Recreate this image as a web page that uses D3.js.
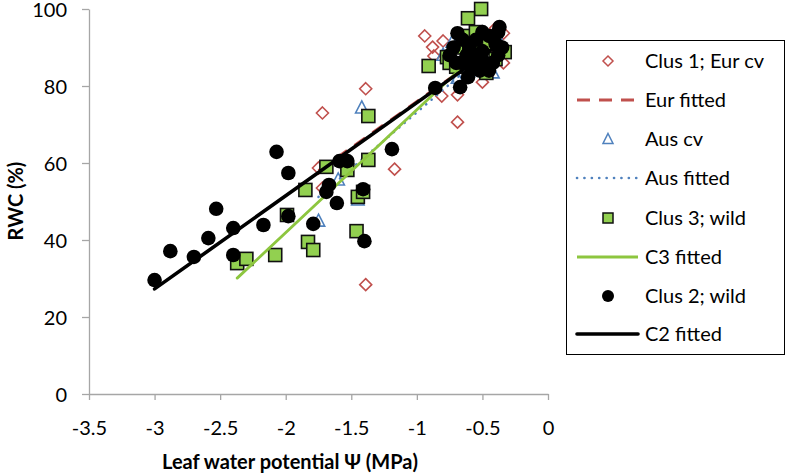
<!DOCTYPE html>
<html><head><meta charset="utf-8">
<script src="https://cdn.jsdelivr.net/npm/d3@7/dist/d3.min.js"></script>
<style>body{margin:0;background:#fff}svg{display:block}text{font-family:Lato,"Open Sans",sans-serif}</style>
</head><body><svg id="c" width="790" height="474"></svg>
<script>
// ---- data ----
const xTicks = [-3.5,-3,-2.5,-2,-1.5,-1,-0.5,0];
const yTicks = [0,20,40,60,80,100];
const seriesNames = ["Clus 1; Eur cv","Eur fitted","Aus cv","Aus fitted","Clus 3; wild","C3 fitted","Clus 2; wild","C2 fitted"];

const eurCv = [[-1.72,73.0],[-1.39,79.3],[-1.75,58.7],[-1.72,53.5],[-1.17,58.4],[-1.39,28.4],[-0.94,93.0],[-0.88,90.1],[-0.80,91.7],[-0.87,87.8],[-0.81,77.4],[-0.69,77.7],[-0.69,70.6],[-0.50,81.0],[-0.34,93.7],[-0.34,86.0],[-0.55,92.5],[-0.60,88.5],[-0.45,90.0],[-0.65,86],[-0.40,95]];
const eurFit = [[-1.75,58.0],[-0.35,91.5]];
const ausCv = [[-1.42,74.3],[-1.60,55.6],[-1.75,44.9],[-1.45,50.4],[-0.73,91.4],[-0.69,82.0],[-0.42,83.4],[-0.80,88],[-0.55,90],[-0.60,84]];
const ausFit = [[-1.75,51.2],[-0.35,92.2]];
const clus3 = [[-2.37,34.0],[-2.30,35.1],[-2.08,36.1],[-1.99,46.5],[-1.85,53.0],[-1.83,39.5],[-1.79,37.4],[-1.69,59.0],[-1.53,58.2],[-1.45,51.2],[-1.41,52.5],[-1.37,60.8],[-1.37,72.2],[-1.46,42.3],[-0.91,85.2],[-0.51,100],[-0.61,97.6],[-0.47,83.4],[-0.33,88.8],[-0.77,87.5],[-0.75,86],[-0.58,85],[-0.62,93],[-0.55,94],[-0.66,90],[-0.45,91],[-0.40,87],[-0.52,89],[-0.70,85],[-0.60,88]];
const c3Fit = [[-2.37,30.1],[-0.40,93.0]];
const clus2 = [[-3.0,29.6],[-2.88,37.1],[-2.70,35.6],[-2.59,40.5],[-2.53,48.1],[-2.40,43.1],[-2.40,36.1],[-2.17,43.9],[-2.07,62.9],[-1.98,57.4],[-1.98,46.2],[-1.79,44.2],[-1.67,54.3],[-1.69,52.5],[-1.59,60.5],[-1.53,60.5],[-1.61,49.6],[-1.41,53.2],[-1.40,39.7],[-1.19,63.6],[-0.86,79.5],[-0.67,79.7],[-0.61,82.3],[-0.69,93.7],[-0.37,95.3],[-0.75,88],[-0.72,90],[-0.65,92],[-0.60,90],[-0.55,92],[-0.50,89],[-0.45,93],[-0.40,91],[-0.38,88],[-0.42,86],[-0.48,86],[-0.55,87],[-0.62,88],[-0.58,85],[-0.52,84],[-0.45,84],[-0.66,86],[-0.70,86],[-0.38,94],[-0.50,94],[-0.35,90]];
const c2Fit = [[-3.0,27.3],[-0.35,91.4]];

// ---- chart ----
const svg = d3.select("#c");
const x = d3.scaleLinear([-3.5,0],[89,548]);
const y = d3.scaleLinear([0,100],[394,9]);
const axisCol = "#a6a6a6";

const gx = svg.append("g").attr("transform","translate(0,394)")
  .call(d3.axisBottom(x).tickValues(xTicks).tickSize(6).tickSizeOuter(0).tickFormat(d=>String(d)));
const gy = svg.append("g").attr("transform","translate(89,0)")
  .call(d3.axisLeft(y).tickValues(yTicks).tickSize(7).tickSizeOuter(0).tickFormat(d=>String(d)));
[gx,gy].forEach(g=>{
  g.selectAll("path,line").attr("stroke",axisCol).attr("stroke-width",1.3);
  g.selectAll("text").attr("font-size",20).attr("fill","#000").attr("font-family","Lato");
});
gx.selectAll("text").attr("dy","1.0em").attr("y",21);
gy.selectAll("text").attr("x",-22).attr("dy","0.36em");

svg.append("text").attr("x",290).attr("y",469).attr("text-anchor","middle")
  .attr("font-size",20).attr("font-weight","bold").text("Leaf water potential Ψ (MPa)");
svg.append("text").attr("transform","translate(23,201) rotate(-90)").attr("text-anchor","middle")
  .attr("font-size",20).attr("font-weight","bold").text("RWC  (%)");

const line = d3.line().x(d=>x(d[0])).y(d=>y(d[1]));
const red="#C0504D", blue="#4F81BD", green="#92D050", lgreen="#8DC63F";

const sym = {
  diamond: (g)=>g.append("path").attr("d","M0,-6L6,0L0,6L-6,0Z").attr("fill","none").attr("stroke",red).attr("stroke-width",1.6),
  tri: (g)=>g.append("path").attr("d","M0,-7L6.2,5L-6.2,5Z").attr("fill","none").attr("stroke",blue).attr("stroke-width",1.6),
  square: (g)=>g.append("rect").attr("x",-6.5).attr("y",-6.5).attr("width",13).attr("height",13).attr("fill",green).attr("stroke","#111").attr("stroke-width",1.6),
  circle: (g)=>g.append("circle").attr("r",7.3).attr("fill","#000")
};
function points(data, kind){
  const g = svg.append("g");
  data.forEach(d=>{ const s=g.append("g").attr("transform",`translate(${x(d[0])},${y(d[1])})`); sym[kind](s); });
}
function fit(data, col, w, dash, cap){
  svg.append("path").attr("d",line(data)).attr("fill","none").attr("stroke",col).attr("stroke-width",w)
    .attr("stroke-dasharray",dash||null).attr("stroke-linecap",cap||"butt");
}
points(eurCv,"diamond");
fit(eurFit,red,3,"13,9");
points(ausCv,"tri");
fit(ausFit,blue,2.6,"0.1,7","round");
points(clus3,"square");
fit(c3Fit,lgreen,2.8,null,"round");
points(clus2,"circle");
fit(c2Fit,"#000",3.6,null,"round");

// ---- legend ----
const lg = svg.append("g");
lg.append("rect").attr("x",566.5).attr("y",40.5).attr("width",218).attr("height",314).attr("fill","#fff").attr("stroke","#000").attr("stroke-width",1);
const ly = [61,100,139,178,218,257,296,334];
const kinds = ["diamond","lineRed","tri","lineBlue","square","lineGreen","circle","lineBlack"];
kinds.forEach((k,i)=>{
  const g = lg.append("g").attr("transform",`translate(608,${ly[i]})`);
  if(k==="lineRed") g.append("line").attr("x1",-31).attr("x2",30).attr("stroke",red).attr("stroke-width",3).attr("stroke-dasharray","13,9");
  else if(k==="lineBlue") g.append("line").attr("x1",-31).attr("x2",30).attr("stroke",blue).attr("stroke-width",2.6).attr("stroke-dasharray","0.1,7.3").attr("stroke-linecap","round");
  else if(k==="lineGreen") g.append("line").attr("x1",-31).attr("x2",30).attr("stroke",lgreen).attr("stroke-width",2.8);
  else if(k==="lineBlack") g.append("line").attr("x1",-31).attr("x2",30).attr("stroke","#000").attr("stroke-width",3.6).attr("stroke-linecap","round");
  else if(k==="diamond") g.append("path").attr("d","M0,-5L5,0L0,5L-5,0Z").attr("fill","none").attr("stroke",red).attr("stroke-width",1.5);
  else if(k==="tri") g.append("path").attr("d","M0,-5.5L5,4.5L-5,4.5Z").attr("fill","none").attr("stroke",blue).attr("stroke-width",1.5);
  else if(k==="square") g.append("rect").attr("x",-5).attr("y",-5).attr("width",10).attr("height",10).attr("fill",green).attr("stroke","#111").attr("stroke-width",1.5);
  else if(k==="circle") g.append("circle").attr("r",6).attr("fill","#000");
  lg.append("text").attr("x",645).attr("y",ly[i]).attr("dy","0.36em").attr("font-size",20).attr("fill","#000").text(seriesNames[i]);
});
</script></body></html>
